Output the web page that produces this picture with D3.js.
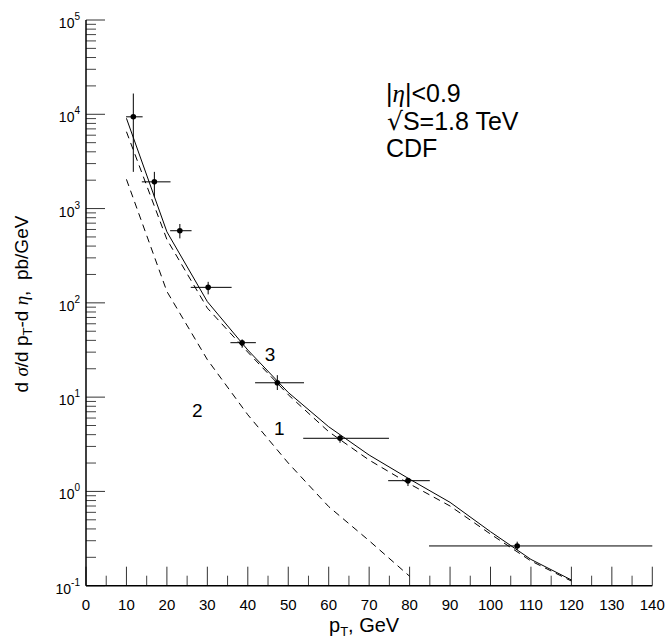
<!DOCTYPE html>
<html>
<head>
<meta charset="utf-8">
<script src="https://cdn.jsdelivr.net/npm/d3@7/dist/d3.min.js"></script>
<style>
  html, body { margin: 0; padding: 0; background: #fff; }
  svg { display: block; }
  text { font-family: "Liberation Sans", Arial, sans-serif; fill: #000; }
  .greek { font-family: "Liberation Serif", "Times New Roman", serif; font-style: italic; }
  .radical { font-family: "DejaVu Sans", sans-serif; }
</style>
</head>
<body>
<script>
// Isolated photon cross section, |eta|<0.9, sqrt(s)=1.8 TeV (CDF data vs. calculations)

// CDF data points
const ptData   = [11.7, 16.9, 23.2, 30.2, 38.6, 47.3, 62.8, 79.6, 106.6];
const sigmaData = [9400, 1920, 582, 146, 37.8, 14.2, 3.66, 1.30, 0.264];
const binLo    = [9.9, 13.8, 20.8, 25.9, 35.7, 41.8, 53.7, 74.7, 84.8];
const binHi    = [14.0, 20.9, 26.1, 36.0, 42.0, 53.9, 74.9, 85.0, 140];
const errLo    = [2450, 1335, 483, 123, 33.4, 11.9, 3.28, 1.14, 0.239];
const errHi    = [16600, 2450, 686, 167, 41, 17.1, 3.96, 1.38, 0.293];

// Calculated curves on a 10 GeV grid
const ptGrid  = [10, 20, 30, 40, 50, 60, 70, 80, 90, 100, 110, 120];
const curve3  = [9060, 567, 103, 31.6, 11.2, 4.85, 2.43, 1.35, 0.766, 0.374, 0.19, 0.115];
const curve1  = [6530, 470, 88, 30, 10.6, 4.3, 2.15, 1.2, 0.70, 0.353, 0.183, 0.112];
const ptGrid2 = [10, 20, 30, 40, 50, 60, 70, 80];
const curve2  = [2040, 132, 25, 6.5, 2.0, 0.69, 0.30, 0.126];

// Axis ticks
const xTicks = [0, 10, 20, 30, 40, 50, 60, 70, 80, 90, 100, 110, 120, 130, 140];
const yExponents = [-1, 0, 1, 2, 3, 4, 5];

// Curve labels, placed at (pT, value)
const curveLabels = ["1", "2", "3"];
const curveLabelPos = [[47.8, 4.7], [27.5, 7.3], [45.5, 28]];

const W = 669, H = 639;
const svg = d3.select("body").append("svg").attr("width", W).attr("height", H);

const x = d3.scaleLinear().domain([0, 140]).range([86, 652.3]);
const y = d3.scaleLog().domain([0.1, 1e5]).range([585.7, 20]);

const axisG = svg.append("g");

// x ticks (pointing up into the plot)
const xMinor = d3.range(5, 140, 10);
axisG.selectAll(".xmaj").data(xTicks).join("line")
  .attr("x1", d => x(d)).attr("x2", d => x(d))
  .attr("y1", y(0.1)).attr("y2", y(0.1) - 19)
  .attr("stroke", "#333").attr("stroke-width", 1);
axisG.selectAll(".xmin").data(xMinor).join("line")
  .attr("x1", d => x(d)).attr("x2", d => x(d))
  .attr("y1", y(0.1)).attr("y2", y(0.1) - 10)
  .attr("stroke", "#444").attr("stroke-width", 1);
axisG.selectAll(".xlab").data(xTicks).join("text")
  .attr("x", d => x(d)).attr("y", 610)
  .attr("text-anchor", "middle").attr("font-size", 15)
  .text(d => d);

// y ticks (decades plus 2..9 minors)
const yMinor = [];
yExponents.slice(0, -1).forEach(e => {
  for (let k = 2; k <= 9; k++) yMinor.push(k * Math.pow(10, e));
});
axisG.selectAll(".ymaj").data(yExponents).join("line")
  .attr("x1", x(0)).attr("x2", x(0) + 19)
  .attr("y1", d => y(Math.pow(10, d))).attr("y2", d => y(Math.pow(10, d)))
  .attr("stroke", "#333").attr("stroke-width", 1);
axisG.selectAll(".ymin").data(yMinor).join("line")
  .attr("x1", x(0)).attr("x2", x(0) + 10)
  .attr("y1", d => y(d)).attr("y2", d => y(d))
  .attr("stroke", "#444").attr("stroke-width", 1);
const yLab = axisG.selectAll(".ylab").data(yExponents).join("text")
  .attr("x", 80).attr("y", d => y(Math.pow(10, d)) + 8)
  .attr("text-anchor", "end").attr("font-size", 14);
yLab.append("tspan").text("10");
yLab.append("tspan").attr("dy", -8).attr("font-size", 10).text(d => d);

// axis lines
axisG.append("line")
  .attr("x1", x(0)).attr("x2", x(0)).attr("y1", y(1e5)).attr("y2", y(0.1))
  .attr("stroke", "#000").attr("stroke-width", 1.5);
axisG.append("line")
  .attr("x1", x(0)).attr("x2", x(140)).attr("y1", y(0.1)).attr("y2", y(0.1))
  .attr("stroke", "#000").attr("stroke-width", 1.5);

// curves
const line = d3.line().x(d => x(d[0])).y(d => y(d[1]));
svg.append("path").datum(d3.zip(ptGrid, curve3)).attr("d", line)
  .attr("fill", "none").attr("stroke", "#000").attr("stroke-width", 1);
svg.append("path").datum(d3.zip(ptGrid, curve1)).attr("d", line)
  .attr("fill", "none").attr("stroke", "#000").attr("stroke-width", 1)
  .attr("stroke-dasharray", "7,5");
svg.append("path").datum(d3.zip(ptGrid2, curve2)).attr("d", line)
  .attr("fill", "none").attr("stroke", "#000").attr("stroke-width", 1)
  .attr("stroke-dasharray", "7,5");

// data points with error bars
const pts = svg.append("g");
const dataRows = ptData.map((p, i) => ({p, s: sigmaData[i], lo: binLo[i], hi: binHi[i], el: errLo[i], eh: errHi[i]}));
pts.selectAll(".hbar").data(dataRows).join("line")
  .attr("x1", d => x(d.lo)).attr("x2", d => x(d.hi))
  .attr("y1", d => y(d.s)).attr("y2", d => y(d.s))
  .attr("stroke", "#000").attr("stroke-width", 1);
pts.selectAll(".vbar").data(dataRows).join("line")
  .attr("x1", d => x(d.p)).attr("x2", d => x(d.p))
  .attr("y1", d => y(d.el)).attr("y2", d => y(d.eh))
  .attr("stroke", "#000").attr("stroke-width", 1);
pts.selectAll("circle").data(dataRows).join("circle")
  .attr("cx", d => x(d.p)).attr("cy", d => y(d.s)).attr("r", 2.8)
  .attr("fill", "#000");

// curve labels
svg.selectAll(".clab").data(curveLabels).join("text")
  .attr("x", (d, i) => x(curveLabelPos[i][0]))
  .attr("y", (d, i) => y(curveLabelPos[i][1]))
  .attr("text-anchor", "middle").attr("dominant-baseline", "central")
  .attr("font-size", 19).text(d => d);

// annotation block
const ann = svg.append("g").attr("font-size", 25);
const t1 = ann.append("text").attr("x", 386).attr("y", 102);
t1.append("tspan").text("|");
t1.append("tspan").attr("class", "greek").text("η");
t1.append("tspan").text("|<0.9");
const t2 = ann.append("text").attr("x", 387).attr("y", 130);
t2.append("tspan").attr("class", "radical").text("√");
t2.append("tspan").text("S=1.8 TeV");
ann.append("text").attr("x", 386).attr("y", 157).text("CDF");

// axis titles
const xt = svg.append("text").attr("x", 329).attr("y", 632).attr("font-size", 20);
xt.append("tspan").text("p");
xt.append("tspan").attr("font-size", 13).attr("dy", 4).text("T");
xt.append("tspan").attr("dy", -4).text(", GeV");

const yt = svg.append("text")
  .attr("transform", "translate(28,304) rotate(-90)")
  .attr("text-anchor", "middle").attr("font-size", 19)
  .style("white-space", "pre");
yt.append("tspan").text("d ");
yt.append("tspan").attr("class", "greek").text("σ");
yt.append("tspan").text("/d p");
yt.append("tspan").attr("font-size", 13).attr("dy", 4).text("T");
yt.append("tspan").attr("dy", -4).text("-d ");
yt.append("tspan").attr("class", "greek").text("η");
yt.append("tspan").text(",  pb/GeV");
</script>
</body>
</html>
